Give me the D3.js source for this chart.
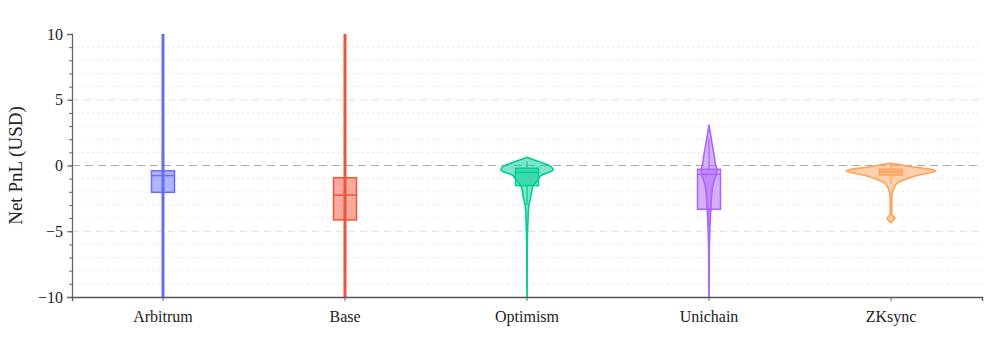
<!DOCTYPE html>
<html>
<head>
<meta charset="utf-8">
<script src="https://cdn.jsdelivr.net/npm/d3@7"></script>
<style>
  body { margin: 0; background: #fff; }
  svg text { font-family: "Liberation Serif", "DejaVu Serif", serif; fill: #222; }
</style>
</head>
<body>
<div id="chart"></div>
<script>
// chain categories and plotly-like colours
const chains = ["Arbitrum", "Base", "Optimism", "Unichain", "ZKsync"]
const colors = ["#636EFA", "#EF553B", "#00CC96", "#AB63FA", "#FFA15A"]

// box stats (USD)
const q1 = [-2.04, -4.14, -1.53, -3.33, -0.72]
const medians = [-0.77, -2.25, -0.52, -0.67, -0.5]
const q3 = [-0.4, -0.93, -0.21, -0.29, -0.29]
const whiskerLo = [-12, -12, -3.0, -4.6, -1.4]
const whiskerHi = [12, 12, 0.3, 2.0, 0.1]

// violin profiles: [value, density]
const arbitrumDensity = [[-12, 0.011], [-5, 0.011], [0, 0.012], [5, 0.011], [12, 0.011]]
const baseDensity = [[-12, 0.011], [-5, 0.012], [0, 0.011], [5, 0.011], [12, 0.011]]
const optimismDensity = [[-12, 0.001], [-10, 0.002], [-7, 0.004], [-5.4, 0.01], [-4.14, 0.022], [-3.1, 0.04],
  [-2.37, 0.085], [-1.6, 0.13], [-1.1, 0.24], [-0.72, 0.33], [-0.34, 0.58], [-0.05, 0.52], [0.17, 0.36],
  [0.42, 0.16], [0.62, 0]]
const unichainDensity = [[-12, 0.002], [-8, 0.004], [-6, 0.01], [-4.65, 0.022], [-3.4, 0.04], [-1.6, 0.08],
  [-0.34, 0.18], [-0.09, 0.155], [0.67, 0.12], [1.69, 0.067], [3.08, 0]]
const zksyncDensity = [[-4.35, 0], [-4.2, 0.05], [-4.0, 0.09], [-3.85, 0.05], [-3.7, 0.015], [-2.5, 0.018],
  [-2.0, 0.033], [-1.74, 0.067], [-1.36, 0.13], [-0.98, 0.37], [-0.72, 0.62], [-0.4, 1.0], [-0.29, 0.89],
  [-0.09, 0.44], [0.06, 0.22], [0.17, 0]]
const densities = [arbitrumDensity, baseDensity, optimismDensity, unichainDensity, zksyncDensity]

const yTicks = [-10, -5, 0, 5, 10]

const width = 996
const height = 356
const margin = {top: 34, right: 14, bottom: 59, left: 72}

const svg = d3.select('#chart').append('svg').attr('width', width).attr('height', height)

const xScale = d3.scaleBand().domain(chains)
  .range([margin.left, width - margin.right]).padding(0)
const yScale = d3.scaleLinear().domain([-10, 10]).range([height - margin.bottom, margin.top])
const wScale = d3.scaleLinear().domain([0, 1]).range([0, 45])

const x0 = margin.left
const x1 = width - margin.right

// minor grid (every unit)
svg.append('g').selectAll('line').data(d3.range(-9, 11).filter(function(v) { return v % 5 !== 0 }))
  .enter().append('line')
  .attr('x1', x0).attr('x2', x1)
  .attr('y1', function(d) { return yScale(d) }).attr('y2', function(d) { return yScale(d) })
  .attr('stroke', '#e6e6e6').attr('stroke-dasharray', '2,3')

// major grid
svg.append('g').selectAll('line').data([-5, 5])
  .enter().append('line')
  .attr('x1', x0).attr('x2', x1)
  .attr('y1', function(d) { return yScale(d) }).attr('y2', function(d) { return yScale(d) })
  .attr('stroke', '#dcdcdc').attr('stroke-dasharray', '7,5')

// zero reference line
svg.append('line')
  .attr('x1', x0).attr('x2', x1)
  .attr('y1', yScale(0)).attr('y2', yScale(0))
  .attr('stroke', '#a8a8a8').attr('stroke-dasharray', '8,5')

svg.append('clipPath').attr('id', 'plot-clip').append('rect')
  .attr('x', x0).attr('y', margin.top).attr('width', x1 - x0).attr('height', height - margin.top - margin.bottom)

const plot = svg.append('g').attr('clip-path', 'url(#plot-clip)')

chains.forEach(function(chain, i) {
  const cx = xScale(chain) + xScale.bandwidth() / 2
  const color = colors[i]

  const area = d3.area()
    .y(function(d) { return yScale(d[0]) })
    .x0(function(d) { return cx - wScale(d[1]) })
    .x1(function(d) { return cx + wScale(d[1]) })
    .curve(d3.curveMonotoneY)

  plot.append('path')
    .datum(densities[i])
    .attr('d', area)
    .attr('fill', color).attr('fill-opacity', 0.5)
    .attr('stroke', color).attr('stroke-width', i < 2 ? 2 : 1.6)
    .attr('stroke-linejoin', 'round')

  const g = plot.append('g')
  // whiskers
  g.append('line').attr('x1', cx).attr('x2', cx)
    .attr('y1', yScale(q1[i])).attr('y2', yScale(whiskerLo[i]))
    .attr('stroke', color).attr('stroke-width', 1.2)
  g.append('line').attr('x1', cx).attr('x2', cx)
    .attr('y1', yScale(q3[i])).attr('y2', yScale(whiskerHi[i]))
    .attr('stroke', color).attr('stroke-width', 1.2)

  g.append('rect')
    .attr('x', cx - 11.5).attr('width', 23)
    .attr('y', yScale(q3[i])).attr('height', yScale(q1[i]) - yScale(q3[i]))
    .attr('fill', color).attr('fill-opacity', 0.5)
    .attr('stroke', color).attr('stroke-width', 1.5)

  g.append('line')
    .attr('x1', cx - 11.5).attr('x2', cx + 11.5)
    .attr('y1', yScale(medians[i])).attr('y2', yScale(medians[i]))
    .attr('stroke', color).attr('stroke-width', 1.5)
})

// axes
const yAxis = d3.axisLeft(yScale).tickValues(yTicks).tickSize(5).tickPadding(4)
const yMinor = d3.axisLeft(yScale).tickValues(d3.range(-10, 11)).tickSize(3).tickFormat('')
const xAxis = d3.axisBottom(xScale).tickSize(4).tickPadding(10)

const gyMinor = svg.append('g').attr('transform', 'translate(' + x0 + ',0)').call(yMinor)
gyMinor.select('.domain').remove()
gyMinor.selectAll('line').attr('stroke', '#666')

const gy = svg.append('g').attr('transform', 'translate(' + x0 + ',0)').call(yAxis)
gy.select('.domain').attr('stroke', '#666').attr('stroke-width', 1.3)
gy.selectAll('.tick line').attr('stroke', '#666')
gy.selectAll('text').attr('font-size', 16).attr('fill', '#222')
  .style('font-family', '"Liberation Serif", serif')

const gx = svg.append('g').attr('transform', 'translate(0,' + yScale(-10) + ')').call(xAxis)
gx.select('.domain').attr('stroke', '#555').attr('stroke-width', 1.3)
gx.selectAll('.tick line').attr('stroke', '#666')
gx.selectAll('text').attr('font-size', 16).attr('fill', '#222')
  .style('font-family', '"Liberation Serif", serif')

svg.append('text')
  .attr('transform', 'translate(22,' + yScale(0) + ') rotate(-90)')
  .attr('text-anchor', 'middle')
  .attr('font-size', 19)
  .text('Net PnL (USD)')
</script>
</body>
</html>
